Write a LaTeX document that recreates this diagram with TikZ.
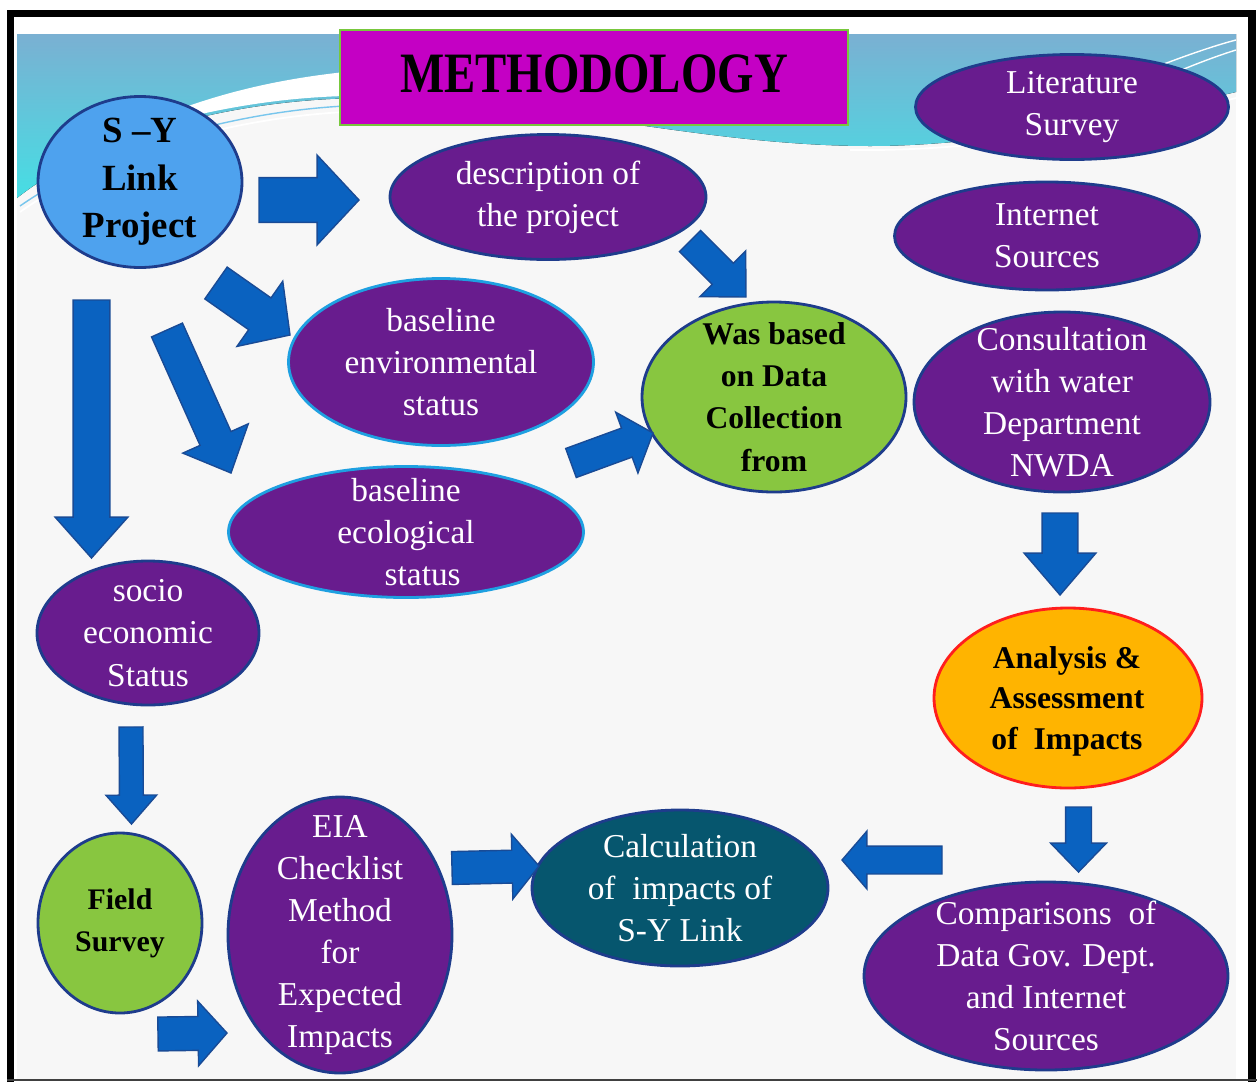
\documentclass[tikz,border=0pt]{standalone}
\usepackage{fontspec}
\setmainfont{Liberation Serif}
\usetikzlibrary{shapes.geometric,calc}
\definecolor{purp}{RGB}{104,28,142}
\definecolor{navy}{RGB}{30,60,140}
\definecolor{cyanedge}{RGB}{30,160,225}
\definecolor{skyb}{RGB}{78,162,238}
\definecolor{grn}{RGB}{136,198,64}
\definecolor{orng}{RGB}{255,180,0}
\definecolor{redb}{RGB}{255,30,30}
\definecolor{tealb}{RGB}{6,86,110}
\definecolor{arrowblue}{RGB}{10,98,192}
\definecolor{arrowedge}{RGB}{25,75,150}
\definecolor{titlemag}{RGB}{196,0,196}
\definecolor{titleedge}{RGB}{120,200,60}
\definecolor{bandtop}{RGB}{122,176,210}
\definecolor{bandbot}{RGB}{70,222,228}
\definecolor{slidebg}{RGB}{247,247,247}
\tikzset{
  sz/.style 2 args={minimum width=#1*0.02cm, minimum height=#2*0.02cm},
  oval/.style={ellipse, inner sep=0pt, line width=1.6pt, draw=navy},
  pnode/.style={oval, fill=purp},
  wtxt/.style={text=white, align=center, inner sep=0pt, font=\fontsize{19}{24}\selectfont},
  btxt/.style={text=black, align=center, inner sep=0pt, font=\bfseries\fontsize{18}{24}\selectfont},
  blockarrow/.style={fill=arrowblue, draw=arrowedge, line width=0.8pt, line join=miter},
}
\newcommand\barrow[5]{%
  \pgfmathsetmacro\bw{#3*0.5669}%
  \pgfmathsetmacro\bh{#4*0.5669}%
  \pgfmathsetmacro\bl{#5*0.5669}%
  \coordinate (hb) at ($(#2)!\bl pt!(#1)$);
  \draw[blockarrow] ($(#1)!\bw pt!90:(#2)$) -- ($(hb)!\bw pt!-90:(#1)$) -- ($(hb)!\bh pt!-90:(#1)$) -- (#2)
     -- ($(hb)!\bh pt!90:(#1)$) -- ($(hb)!\bw pt!90:(#1)$) -- ($(#1)!\bw pt!-90:(#2)$) -- cycle;}
\begin{document}
\begin{tikzpicture}[x=0.02cm,y=-0.02cm]
\useasboundingbox (0,0) rectangle (1260,1082);
\fill[white] (0,0) rectangle (1260,1082);
% slide background
\fill[slidebg] (17,34) rectangle (1236,1079);
\fill[top color=bandtop, bottom color=bandbot] (17,34) -- (1236,34) -- (1236,92)
  .. controls (1150,112) and (1000,146) .. (870,146)
  .. controls (700,146) and (550,100) .. (360,98)
  .. controls (220,100) and (90,140) .. (17,198) -- cycle;
\fill[white] (110,140) .. controls (190,98) and (270,80) .. (345,72) -- (345,96)
  .. controls (270,98) and (190,112) .. (110,140) -- cycle;
\draw[white, line width=1pt] (20,212) .. controls (100,155) and (230,118) .. (345,112);
\draw[cyanedge!60, line width=0.8pt] (20,206) .. controls (100,150) and (230,112) .. (345,106);
\draw[white, line width=1pt] (850,150) .. controls (1000,152) and (1150,120) .. (1236,98);
\draw[white, line width=0.8pt] (1110,85) .. controls (1160,65) and (1205,48) .. (1236,40);
\draw[white, line width=0.8pt] (1130,92) .. controls (1175,72) and (1210,58) .. (1236,50);
% frame
\draw[black, line width=4.5pt] (10.5,1082) -- (10.5,13.5) -- (1252,13.5) -- (1252,1082);
\draw[black!75, line width=1.2pt] (7,1080) -- (1257,1080);
% title
\node[draw=titleedge, line width=1.2pt, fill=titlemag, inner sep=0pt, sz={508}{95}] (title) at (594,77.5) {};
\node[inner sep=0pt] (titlet) at (594,74) {\scalebox{0.82}[1]{\fontsize{32.5}{36}\selectfont\bfseries METHODOLOGY}};
% nodes
\node[oval, fill=skyb, sz={204}{171}] (sy) at (140,182) {};
\node[btxt, font=\bfseries\fontsize{21}{27}\selectfont] (syt) at (sy.center) {S –Y\\Link\\Project};
\node[pnode, sz={316}{125}] (desc) at (548,197) {};
\node[wtxt] (desct) at (desc.center) {description of\\the project};
\node[pnode, sz={313}{105}] (lit) at (1072,107) {};
\node[wtxt] (litt) at (lit.center) {Literature\\Survey};
\node[pnode, sz={305}{108}] (inet) at (1047,236) {};
\node[wtxt] (inett) at (inet.center) {Internet\\Sources};
\node[pnode, draw=cyanedge, sz={305}{167}] (env) at (441,362) {};
\node[wtxt] (envt) at (env.center) {baseline\\environmental\\status};
\node[pnode, draw=cyanedge, sz={355}{131}] (eco) at (406,532) {};
\node[wtxt] (ecot) at (eco.center) {baseline\\ecological\\\hspace*{1em}status};
\node[oval, fill=grn, sz={264}{190}] (data) at (774,397) {};
\node[btxt] (datat) at (data.center) {Was based\\on Data\\Collection\\from};
\node[pnode, sz={296}{180}] (cons) at (1062,402) {};
\node[wtxt] (const) at (cons.center) {Consultation\\with water\\Department\\NWDA};
\node[pnode, sz={222}{144}] (socio) at (148,633) {};
\node[wtxt] (sociot) at (socio.center) {socio\\economic\\Status};
\node[oval, fill=orng, draw=redb, sz={268}{180}] (anal) at (1068,698) {};
\node[btxt, font=\bfseries\fontsize{18}{23}\selectfont] (analt) at (1067,701) {Analysis \&\\Assessment\\of~ Impacts};
\node[oval, fill=grn, sz={164}{180}] (field) at (120,923) {};
\node[btxt, font=\bfseries\fontsize{17}{24}\selectfont] (fieldt) at (field.center) {Field\\Survey};
\node[pnode, sz={224}{276}] (eia) at (340,935) {};
\node[wtxt] (eiat) at (eia.center) {EIA\\Checklist\\Method\\for\\Expected\\Impacts};
\node[oval, fill=tealb, sz={296}{156}] (calc) at (680,888) {};
\node[wtxt] (calct) at (calc.center) {Calculation\\of~ impacts of\\S-Y Link};
\node[pnode, sz={364}{188}] (comp) at (1046,976) {};
\node[wtxt] (compt) at (comp.center) {Comparisons~ of\\Data Gov. Dept.\\and Internet\\Sources};
% block arrows
\coordinate (a1s) at (259,200); \coordinate (a1e) at (359,200);
\barrow{a1s}{a1e}{22.5}{45}{42}
\coordinate (a2s) at (216,283); \coordinate (a2e) at (290,335);
\barrow{a2s}{a2e}{19.5}{40}{37}
\coordinate (a3s) at (167,330); \coordinate (a3e) at (231,473);
\barrow{a3s}{a3e}{17}{36}{38}
\coordinate (a4s) at (91.5,300); \coordinate (a4e) at (91.5,558);
\barrow{a4s}{a4e}{18.5}{36.5}{41}
\coordinate (a5s) at (690,241); \coordinate (a5e) at (746,297);
\barrow{a5s}{a5e}{15}{32.5}{33}
\coordinate (a6s) at (571,463); \coordinate (a6e) at (653,433);
\barrow{a6s}{a6e}{15.5}{32.5}{28}
\coordinate (a7s) at (1060,513); \coordinate (a7e) at (1060,595);
\barrow{a7s}{a7e}{18}{36}{42}
\coordinate (a8s) at (1078.5,807); \coordinate (a8e) at (1078.5,872);
\barrow{a8s}{a8e}{13}{28}{29}
\coordinate (a9s) at (942,860); \coordinate (a9e) at (842,860);
\barrow{a9s}{a9e}{14}{29}{25}
\coordinate (a10s) at (452,868); \coordinate (a10e) at (539,866);
\barrow{a10s}{a10e}{16.5}{32.5}{27}
\coordinate (a11s) at (131,727); \coordinate (a11e) at (131.5,824);
\barrow{a11s}{a11e}{12}{25.5}{29}
\coordinate (a12s) at (158,1034); \coordinate (a12e) at (227,1033);
\barrow{a12s}{a12e}{17}{32.5}{29}
\end{tikzpicture}
\end{document}
